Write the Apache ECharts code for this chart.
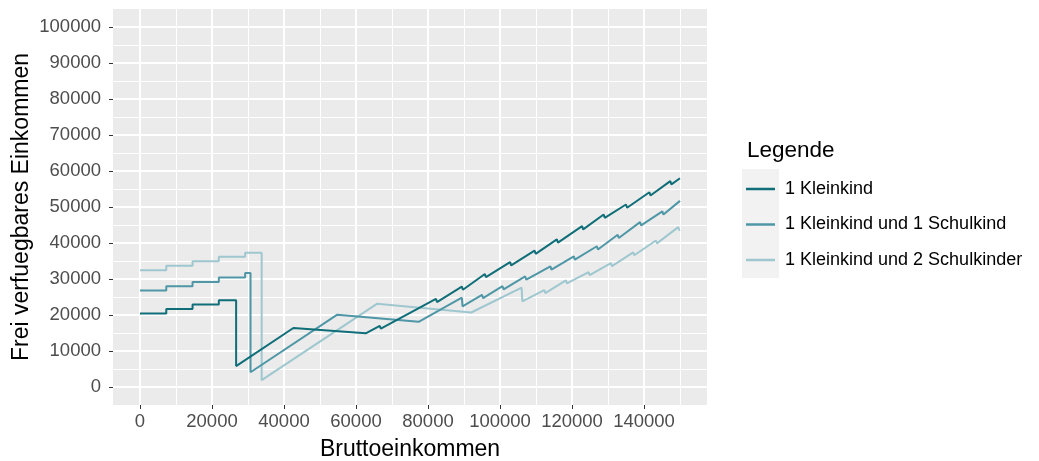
<!DOCTYPE html>
<html>
<head>
<meta charset="utf-8">
<script src="https://cdn.jsdelivr.net/npm/echarts@6/dist/echarts.min.js"></script>
<style>
html,body{margin:0;padding:0;background:#fff;}
#c{width:1039px;height:461px;}
</style>
</head>
<body>
<div id="c"></div>
<script>
var seriesNames = ['1 Kleinkind', '1 Kleinkind und 1 Schulkind', '1 Kleinkind und 2 Schulkinder'];

var kleinkind = [
  [0,20400],[7300,20400],[7300,21700],[14600,21700],[14600,22900],[21900,22900],[21900,24100],[26700,24100],[26700,5800],
  [42600,16400],[62700,14900],[66600,17000],[66900,16200],
  [82200,24500],[82500,23600],
  [89400,27900],[89700,27000],
  [95800,31400],[96100,30500],
  [102800,34700],[103100,33800],
  [109600,37900],[109900,37000],
  [115800,41000],[116100,40100],
  [122800,44700],[123100,43800],
  [128800,47900],[129100,47000],
  [135000,50700],[135300,49800],
  [141500,54100],[141800,53200],
  [147300,57200],[147600,56300],
  [150000,58000]
];

var einSchulkind = [
  [0,26800],[7300,26800],[7300,28000],[14600,28000],[14600,29200],[21900,29200],[21900,30400],[29200,30400],[29200,31700],[30700,31700],[30700,4100],
  [54800,20100],[77400,18100],
  [89400,24800],[89600,22400],
  [95000,25600],[95300,24700],
  [100700,28000],[101000,27100],
  [107000,30700],[107300,29800],
  [114000,33500],[114300,32600],
  [120500,36300],[120800,35400],
  [126900,39100],[127200,38200],
  [132700,42300],[133000,41400],
  [138900,45800],[139200,44900],
  [145100,48800],[145400,47900],
  [150000,51700]
];

var zweiSchulkinder = [
  [0,32400],[7300,32400],[7300,33700],[14600,33700],[14600,34900],[21900,34900],[21900,36200],[29200,36200],[29200,37300],[33800,37300],[33800,1900],
  [65800,23100],[92000,20700],
  [106000,27600],[106200,23800],
  [112300,26900],[112600,26100],
  [118300,29600],[118600,28800],
  [124600,31900],[124900,31100],
  [130800,34400],[131100,33600],
  [137000,37400],[137300,36600],
  [143300,40700],[143600,39900],
  [149500,44400],[149800,43600],
  [150000,43700]
];

var xBreaks = [0,20000,40000,60000,80000,100000,120000,140000];
var xMinor = [10000,30000,50000,70000,90000,110000,130000,150000];
var yBreaks = [0,10000,20000,30000,40000,50000,60000,70000,80000,90000,100000];
var yMinor = [5000,15000,25000,35000,45000,55000,65000,75000,85000,95000];

var colors = ['#0F6E78', '#4F97A6', '#9FC7CF'];
var FONT = "'Liberation Sans', Arial, sans-serif";

var chart = echarts.init(document.getElementById('c'), null, {renderer:'canvas'});

var gridLines = [];
xBreaks.forEach(function(v){ gridLines.push({xAxis:v, lineStyle:{width:2}}); });
xMinor.forEach(function(v){ gridLines.push({xAxis:v, lineStyle:{width:1}}); });
yBreaks.forEach(function(v){ gridLines.push({yAxis:v, lineStyle:{width:2}}); });
yMinor.forEach(function(v){ gridLines.push({yAxis:v, lineStyle:{width:1}}); });

function plain(v){ return String(v); }

var option = {
  animation: false,
  textStyle: {fontFamily: FONT},
  title: [{
    text: 'Legende',
    left: 742, top: 134,
    textStyle: {fontFamily: FONT, fontSize: 22.5, fontWeight: 'normal', color: '#000'}
  }],
  legend: {
    data: seriesNames,
    orient: 'vertical',
    left: 746, top: 179,
    padding: 0,
    icon: 'rect',
    itemWidth: 29, itemHeight: 2.5,
    itemGap: 15.5,
    textStyle: {fontFamily: FONT, fontSize: 18, color: '#000', lineHeight: 20, padding: [0,0,0,5]}
  },
  graphic: [{
    type: 'rect', left: 742, top: 169, z: -1,
    shape: {width: 37, height: 109},
    style: {fill: '#F2F2F2'}
  }],
  grid: {
    left: 113, right: 332, top: 9, bottom: 56,
    containLabel: false,
    outerBoundsMode: 'none',
    show: true, backgroundColor: '#EBEBEB', borderWidth: 0
  },
  xAxis: {
    type: 'value', min: -7500, max: 157500,
    name: 'Bruttoeinkommen', nameLocation: 'middle', nameGap: 33,
    nameTextStyle: {fontFamily: FONT, fontSize: 23, color: '#000'},
    axisLine: {show: false, onZero: false},
    axisTick: {show: true, length: 4, customValues: xBreaks, lineStyle: {color: '#333', width: 1}},
    axisLabel: {customValues: xBreaks, formatter: plain, margin: 7, fontFamily: FONT, fontSize: 18.5, color: '#4D4D4D'},
    splitLine: {show: false}
  },
  yAxis: {
    type: 'value', min: -5000, max: 105000,
    name: 'Frei verfuegbares Einkommen', nameLocation: 'middle', nameGap: 80, nameRotate: 90,
    nameMoveOverlap: false,
    nameTextStyle: {fontFamily: FONT, fontSize: 23, color: '#000'},
    axisLine: {show: false, onZero: false},
    axisTick: {show: true, length: 4, customValues: yBreaks, lineStyle: {color: '#333', width: 1}},
    axisLabel: {customValues: yBreaks, formatter: plain, margin: 12, fontFamily: FONT, fontSize: 18.5, color: '#4D4D4D'},
    splitLine: {show: false}
  },
  series: [
    {
      name: '_grid', type: 'line', data: [], z: 1, silent: true,
      markLine: {
        silent: true, symbol: ['none','none'], z: 1, animation: false,
        label: {show: false},
        lineStyle: {color: '#FFFFFF', type: 'solid'},
        emphasis: {disabled: true},
        data: gridLines
      }
    },
    {name: seriesNames[0], type: 'line', data: kleinkind, showSymbol: false, symbol: 'none', z: 4,
     lineStyle: {color: colors[0], width: 2}, itemStyle: {color: colors[0]}},
    {name: seriesNames[1], type: 'line', data: einSchulkind, showSymbol: false, symbol: 'none', z: 3,
     lineStyle: {color: colors[1], width: 2}, itemStyle: {color: colors[1]}},
    {name: seriesNames[2], type: 'line', data: zweiSchulkinder, showSymbol: false, symbol: 'none', z: 2,
     lineStyle: {color: colors[2], width: 2}, itemStyle: {color: colors[2]}}
  ]
};
chart.setOption(option);
</script>
</body>
</html>
